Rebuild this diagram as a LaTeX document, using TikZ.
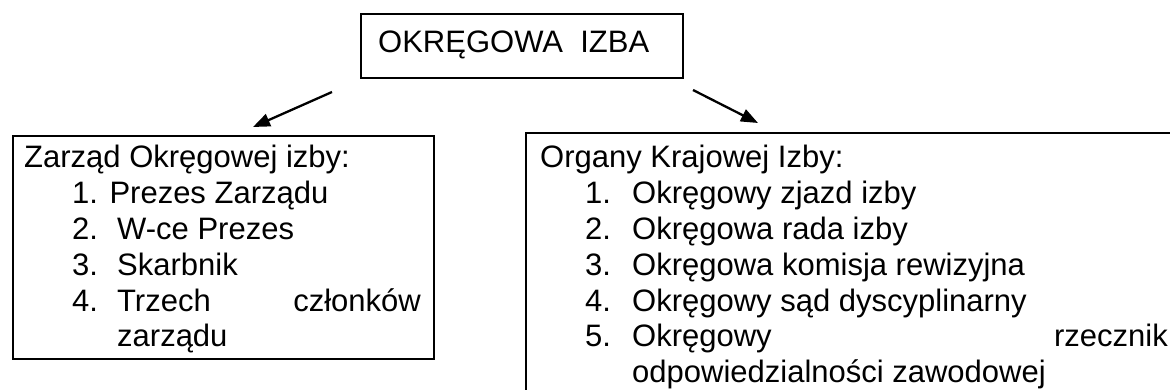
\documentclass[tikz,border=0pt]{standalone}
\usepackage{fontspec}
\setmainfont{Liberation Sans}
\usetikzlibrary{arrows.meta}
\begin{document}
\begin{tikzpicture}[x=1pt,y=-1pt,
  txt/.style={anchor=base west,inner sep=0pt,font=\fontsize{31}{35.5}\selectfont},
  txte/.style={txt,anchor=base east},
  frame/.style={draw,line width=2pt,anchor=north west,inner sep=0pt},
  arr/.style={line width=2.3pt,-{Triangle[length=17pt,width=13pt]}}]
\useasboundingbox (0,0) rectangle (1170,390);
\clip (0,0) rectangle (1170,390);
% boxes
\node[frame,minimum width=322pt,minimum height=64pt] (izba) at (360,13) {};
\node[frame,minimum width=421pt,minimum height=223pt] (zarzad) at (12,135) {};
\node[frame,minimum width=700pt,minimum height=320pt] (organy) at (525,132) {};
% title
\node[txt] (title) at (378,53) {OKRĘGOWA\ \ IZBA};
% left box text
\node[txt] (z0) at (24,168) {Zarząd Okręgowej izby:};
\node[txt] (z1) at (72,203.5) {1. Prezes Zarządu};
\node[txt] (z2n) at (72,239.5) {2.};
\node[txt] (z2) at (117,239.5) {W-ce Prezes};
\node[txt] (z3n) at (72,275) {3.};
\node[txt] (z3) at (117,275) {Skarbnik};
\node[txt] (z4n) at (72,311) {4.};
\node[txt] (z4) at (117,311) {Trzech};
\node[txte] (z4b) at (421,311) {członków};
\node[txt] (z5) at (117,346.5) {zarządu};
% right box text
\node[txt] (o0) at (540,168) {Organy Krajowej Izby:};
\node[txt] (o1n) at (585,203.5) {1.};
\node[txt] (o1) at (632,203.5) {Okręgowy zjazd izby};
\node[txt] (o2n) at (585,239.5) {2.};
\node[txt] (o2) at (632,239.5) {Okręgowa rada izby};
\node[txt] (o3n) at (585,275) {3.};
\node[txt] (o3) at (632,275) {Okręgowa komisja rewizyjna};
\node[txt] (o4n) at (585,311) {4.};
\node[txt] (o4) at (632,311) {Okręgowy sąd dyscyplinarny};
\node[txt] (o5n) at (585,346.5) {5.};
\node[txt] (o5) at (632,346.5) {Okręgowy};
\node[txte] (o5b) at (1168,346.5) {rzecznik};
\node[txt] (o6) at (632,382) {odpowiedzialności zawodowej};
% arrows
\coordinate (l1) at (332,92);
\coordinate (l2) at (253,127);
\coordinate (r1) at (693,90);
\coordinate (r2) at (758,123);
\draw[arr] (l1) -- (l2);
\draw[arr] (r1) -- (r2);
\end{tikzpicture}
\end{document}
